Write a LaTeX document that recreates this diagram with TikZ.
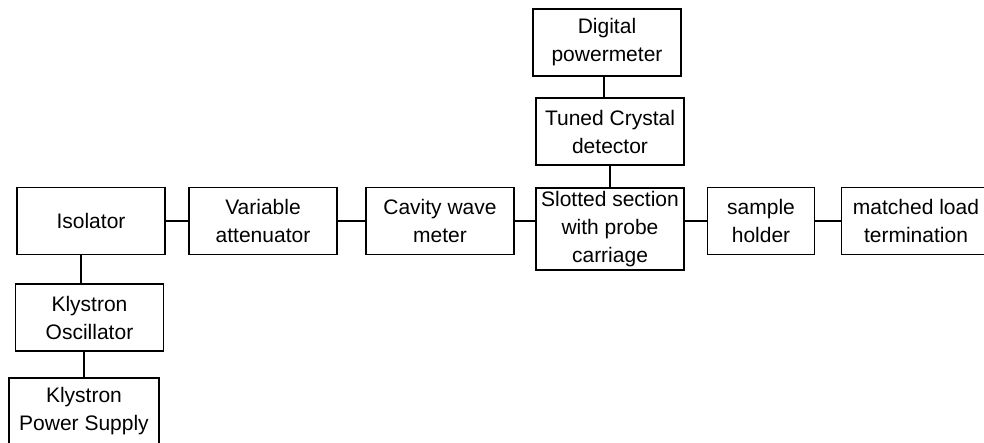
\documentclass[tikz,border=0pt]{standalone}
\usepackage{fontspec}
\setmainfont{Liberation Sans}
\usetikzlibrary{positioning}

\tikzset{
  block/.style={draw, line width=1.2pt, minimum width=148pt, minimum height=67pt,
    inner sep=0pt, align=center, font=\fontsize{21}{28}\selectfont},
  link/.style={line width=1.2pt}
}

\begin{document}
\begin{tikzpicture}[x=1pt,y=-1pt,on grid]
            \useasboundingbox (0,0) rectangle (984,442);
            \node[block] (iso) at (91,221) {Isolator};
            \node[block] (att) [right=172pt of iso] {Variable\\attenuator};
            \node[block] (cav) [right=177pt of att] {Cavity wave\\meter};
            \node[block, minimum height=82pt] (slot) [below right=8pt and 170pt of cav] {Slotted section\\with probe\\carriage};
            \node[block, minimum width=107pt] (smp) [right=321pt of cav] {sample\\holder};
            \node[block, minimum width=149pt] (load) [right=155pt of smp] {matched load\\termination};
            \node[block] (tcd) [above=97.5pt of slot] {Tuned Crystal\\detector};
            \node[block] (dig) [above left=89pt and 3pt of tcd] {Digital\\powermeter};
            \node[block] (osc) [below left=96.5pt and 1.5pt of iso] {Klystron\\Oscillator};
            \node[block, minimum width=150pt] (kps) [below left=94pt and 5.5pt of osc] {Klystron\\Power Supply};
            \draw[link]
                (iso) -- (att)
                (att) -- (cav)
                (cav.east) -- (cav.east -| slot.west)
                (smp.west -| slot.east) -- (smp.west)
                (smp) -- (load)
                ([xshift=-3pt]dig.south) -- ([xshift=-3pt]dig.south |- tcd.north)
                (tcd) -- (slot)
                ([xshift=-10pt]iso.south) -- ([xshift=-10pt]iso.south |- osc.north)
                (kps.north) -- (kps.north |- osc.south);
        \end{tikzpicture}
\end{document}
